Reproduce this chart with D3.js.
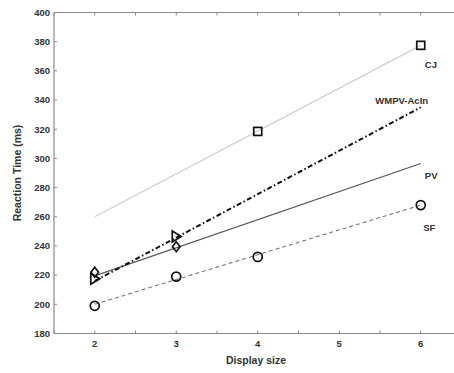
<!DOCTYPE html>
<html>
<head>
<meta charset="utf-8">
<script src="https://cdn.jsdelivr.net/npm/d3@7"></script>
<style>
  body { margin: 0; background: #fff; }
  svg text { font-family: "Liberation Sans", Arial, sans-serif; font-weight: bold; fill: #333; }
</style>
</head>
<body>
<div id="vis"></div>
<script>
// fitted lines (value at display size 2 and 6)
const lineSizes = [2, 6];
const cjLine = [260, 377.5];
const wmpvLine = [216, 335];
const pvLine = [219.5, 296.5];
const sfLine = [200, 268];

// observed points
const cjSizes = [4, 6];
const cjRT = [318.5, 377.5];
const wmpvSizes = [2, 3];
const wmpvRT = [217.5, 246.5];
const pvSizes = [2, 3];
const pvRT = [222, 239.5];
const sfSizes = [2, 3, 4, 6];
const sfRT = [199, 219, 232.5, 268];

const seriesLabels = ["CJ", "WMPV-AcIn", "PV", "SF"];
const labelSize = [6.05, 6.09, 6.05, 6.03];
const labelRT = [362, 337, 286, 250];

const xTicks = [1.5, 2, 2.5, 3, 3.5, 4, 4.5, 5, 5.5, 6, 6.5];
const yTicks = d3.range(180, 401, 20);

const width = 454;
const height = 373;

const svg = d3.select('#vis')
    .append('svg')
    .attr('width', width)
    .attr('height', height);

const x = d3.scaleLinear().domain([1.5, 6.5]).range([54, 461.5]);
const y = d3.scaleLinear().domain([180, 400]).range([333.5, 12.5]);

// axes box
const axisColor = '#8a8a8a';
svg.append('line').attr('x1', x(1.5)).attr('x2', x(6.5)).attr('y1', y(180)).attr('y2', y(180))
    .attr('stroke', axisColor).attr('stroke-width', 1.2);
svg.append('line').attr('x1', x(1.5)).attr('x2', x(6.5)).attr('y1', y(400)).attr('y2', y(400))
    .attr('stroke', axisColor).attr('stroke-width', 1.2);
svg.append('line').attr('x1', x(1.5)).attr('x2', x(1.5)).attr('y1', y(180)).attr('y2', y(400))
    .attr('stroke', axisColor).attr('stroke-width', 1.2);

// ticks pointing inward
svg.selectAll('.xtb').data(xTicks).join('line')
    .attr('x1', d => x(d)).attr('x2', d => x(d))
    .attr('y1', y(180)).attr('y2', y(180) - 3)
    .attr('stroke', axisColor);
svg.selectAll('.xtt').data(xTicks).join('line')
    .attr('x1', d => x(d)).attr('x2', d => x(d))
    .attr('y1', y(400)).attr('y2', y(400) + 3)
    .attr('stroke', axisColor);
svg.selectAll('.ytl').data(yTicks).join('line')
    .attr('x1', x(1.5)).attr('x2', x(1.5) + 3)
    .attr('y1', d => y(d)).attr('y2', d => y(d))
    .attr('stroke', axisColor);

svg.selectAll('.xlab').data(xTicks.filter(d => Number.isInteger(d))).join('text')
    .attr('x', d => x(d)).attr('y', y(180) + 13)
    .attr('text-anchor', 'middle').attr('font-size', 9.5)
    .text(d => d);
svg.selectAll('.ylab').data(yTicks).join('text')
    .attr('x', x(1.5) - 4).attr('y', d => y(d) + 3.3)
    .attr('text-anchor', 'end').attr('font-size', 9.5)
    .text(d => d);

svg.append('text')
    .attr('x', 256).attr('y', 364)
    .attr('text-anchor', 'middle').attr('font-size', 10.5)
    .text('Display size');
svg.append('text')
    .attr('transform', `translate(21,${(y(180) + y(400)) / 2}) rotate(-90)`)
    .attr('text-anchor', 'middle').attr('font-size', 10.5)
    .text('Reaction Time (ms)');

// regression lines
const line = d3.line().x(d => x(d[0])).y(d => y(d[1]));
const fits = [
    { vals: cjLine, color: '#cfcfcf', w: 1.3, dash: null },
    { vals: pvLine, color: '#555', w: 1.1, dash: null },
    { vals: sfLine, color: '#777', w: 1.1, dash: '4,3' },
    { vals: wmpvLine, color: '#111', w: 2, dash: '5,2.5,1.5,2.5' }
];
svg.selectAll('.fit').data(fits).join('path')
    .attr('d', d => line(lineSizes.map((s, i) => [s, d.vals[i]])))
    .attr('fill', 'none')
    .attr('stroke', d => d.color)
    .attr('stroke-width', d => d.w)
    .attr('stroke-dasharray', d => d.dash);

// markers
const mk = { fill: 'none', stroke: '#111', sw: 1.7 };
function zip(a, b) { return a.map((v, i) => [v, b[i]]); }

svg.selectAll('.sq').data(zip(cjSizes, cjRT)).join('rect')
    .attr('x', d => x(d[0]) - 4).attr('y', d => y(d[1]) - 4)
    .attr('width', 8).attr('height', 8)
    .attr('fill', mk.fill).attr('stroke', mk.stroke).attr('stroke-width', mk.sw);

svg.selectAll('.tri').data(zip(wmpvSizes, wmpvRT)).join('path')
    .attr('transform', d => `translate(${x(d[0])},${y(d[1])})`)
    .attr('d', 'M-4,-5.5L5,0L-4,5.5Z')
    .attr('fill', mk.fill).attr('stroke', mk.stroke).attr('stroke-width', mk.sw);

svg.selectAll('.dia').data(zip(pvSizes, pvRT)).join('path')
    .attr('transform', d => `translate(${x(d[0])},${y(d[1])})`)
    .attr('d', 'M0,-5L3.8,0L0,5L-3.8,0Z')
    .attr('fill', mk.fill).attr('stroke', mk.stroke).attr('stroke-width', mk.sw);

svg.selectAll('.circ').data(zip(sfSizes, sfRT)).join('circle')
    .attr('cx', d => x(d[0])).attr('cy', d => y(d[1])).attr('r', 4.5)
    .attr('fill', mk.fill).attr('stroke', mk.stroke).attr('stroke-width', mk.sw);

// series labels
svg.selectAll('.slab').data(seriesLabels).join('text')
    .attr('x', (d, i) => x(labelSize[i]))
    .attr('y', (d, i) => y(labelRT[i]))
    .attr('text-anchor', (d, i) => i === 1 ? 'end' : 'start')
    .attr('font-size', 9.5)
    .text(d => d);
</script>
</body>
</html>
